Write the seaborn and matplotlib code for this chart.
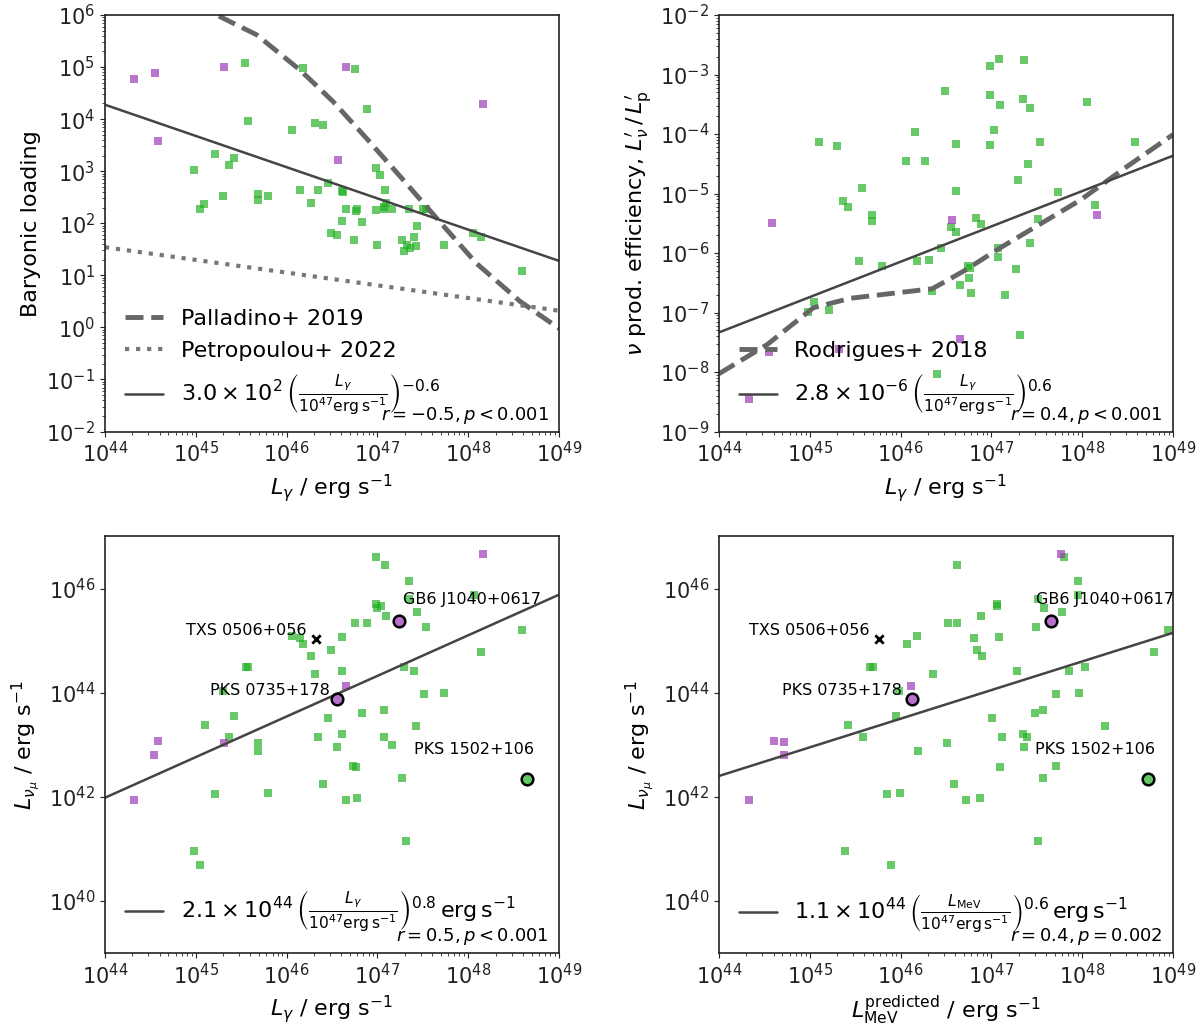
import numpy as np
import matplotlib
matplotlib.use("Agg")
import matplotlib.pyplot as plt
import matplotlib.ticker as mticker
import seaborn as sns

# values, stored as log10
# top left: baryonic loading vs L_gamma
tl_green_lx = [45.54, 46.18, 46.75, 46.89, 45.58, 46.06, 46.31, 46.40, 45.21, 45.42,
               45.37, 44.98, 46.98, 47.03, 46.45, 46.61, 46.62, 46.15, 46.35, 47.08,
               45.30, 45.69, 45.69, 45.80, 45.09, 45.05, 46.27, 46.65, 46.78, 46.76,
               46.98, 47.07, 47.07, 47.09, 47.16, 47.35, 47.50, 47.53, 46.61, 46.83,
               47.43, 46.49, 46.55, 46.74, 47.27, 47.40, 46.99, 47.42, 47.73, 48.05,
               48.14, 47.29, 47.32, 47.36, 48.59]
tl_green_ly = [5.07, 4.98, 4.96, 4.19, 3.97, 3.79, 3.92, 3.88, 3.34, 3.26,
               3.11, 3.02, 3.06, 2.93, 2.78, 2.62, 2.61, 2.63, 2.63, 2.63,
               2.53, 2.56, 2.44, 2.53, 2.37, 2.28, 2.38, 2.28, 2.27, 2.24,
               2.26, 2.32, 2.28, 2.39, 2.27, 2.28, 2.28, 2.28, 2.04, 2.03,
               1.94, 1.82, 1.78, 1.68, 1.68, 1.73, 1.59, 1.57, 1.59, 1.82,
               1.73, 1.46, 1.59, 1.52, 1.09]
tl_purple_lx = [44.32, 44.55, 45.31, 44.58, 46.65, 46.57, 48.16]
tl_purple_ly = [4.77, 4.88, 5.00, 3.58, 5.00, 3.22, 4.29]
pal_lx = [45.0, 45.23, 45.67, 46.15, 46.51, 46.88, 47.25, 47.65, 48.09, 48.57, 49.0]
pal_ly = [6.2, 6.00, 5.62, 4.94, 4.34, 3.63, 2.90, 2.10, 1.23, 0.50, -0.02]
pet_lx = [44.0, 49.0]
pet_ly = [1.54, 0.32]
tl_fit = (300.0, -0.6)

# top right: neutrino production efficiency vs L_gamma
tr_green_lx = [45.10, 45.30, 45.37, 45.42, 45.58, 45.69, 45.69, 46.06, 46.16, 46.27,
               46.49, 46.61, 46.61, 46.55, 46.61, 46.45, 46.83, 46.89, 46.99, 47.08,
               46.98, 47.10, 47.03, 46.98, 47.07, 47.36, 47.35, 47.43, 47.54, 47.40,
               47.29, 47.73, 47.51, 47.42, 48.05, 48.14, 48.58, 45.54, 45.80, 46.18,
               46.31, 44.98, 45.05, 45.21, 46.35, 46.66, 46.74, 46.77, 46.75, 46.78,
               47.07, 47.15, 47.27, 47.31, 46.40]
tr_green_ly = [-4.14, -4.20, -5.12, -5.22, -4.91, -5.36, -5.46, -4.45, -3.96, -4.46,
               -3.28, -4.95, -4.16, -5.57, -5.64, -5.91, -5.41, -5.51, -2.85, -2.74,
               -3.35, -3.52, -3.94, -4.18, -5.91, -2.76, -3.41, -3.56, -4.13, -4.50,
               -4.78, -4.97, -5.42, -5.83, -3.46, -5.19, -4.14, -6.13, -6.22, -6.13,
               -6.12, -6.99, -6.83, -6.96, -6.64, -6.54, -6.21, -6.25, -6.42, -6.67,
               -6.06, -6.70, -6.27, -7.38, -8.04]
tr_purple_lx = [44.58, 46.57, 48.16, 44.55, 44.33, 45.32, 46.66]
tr_purple_ly = [-5.49, -5.45, -5.36, -7.67, -8.45, -7.62, -7.45]
rod_lx = [44.0, 44.53, 45.04, 45.45, 46.35, 46.70, 47.09, 47.98, 48.49, 49.0]
rod_ly = [-8.03, -7.54, -6.92, -6.76, -6.60, -6.30, -5.92, -5.11, -4.55, -4.01]
tr_fit = (2.8e-6, 0.594)

# bottom left: L_numu vs L_gamma
bl_green_lx = [46.98, 47.08, 47.35, 48.06, 47.35, 46.98, 47.04, 46.99, 47.09, 47.43,
               47.53, 46.75, 46.88, 46.06, 46.15, 46.18, 46.61, 46.49, 46.27, 48.59,
               48.14, 45.55, 45.58, 46.31, 46.61, 47.29, 47.40, 45.30, 47.51, 47.73,
               45.42, 45.10, 45.37, 46.45, 46.83, 47.07, 47.42, 45.69, 45.69, 46.35,
               46.61, 46.55, 47.07, 47.16, 46.73, 46.76, 47.27, 46.40, 45.21, 45.80,
               46.65, 46.78, 47.31, 44.98, 45.05]
bl_green_ly = [46.60, 46.45, 46.14, 45.87, 45.79, 45.71, 45.67, 45.63, 45.47, 45.55,
               45.26, 45.34, 45.33, 45.08, 45.05, 44.94, 45.07, 44.81, 44.71, 45.20,
               44.79, 44.50, 44.50, 44.35, 44.41, 44.49, 44.42, 44.03, 43.97, 43.99,
               43.55, 43.37, 43.15, 43.51, 43.61, 43.66, 43.36, 43.03, 42.88, 43.15,
               43.20, 42.96, 43.15, 42.99, 42.59, 42.57, 42.37, 42.24, 42.05, 42.08,
               41.94, 41.97, 41.15, 40.96, 40.68]
bl_purple_lx = [48.16, 44.58, 44.54, 45.31, 46.65, 44.32]
bl_purple_ly = [46.67, 43.07, 42.81, 43.04, 44.12, 41.94]
bl_fit = (2.1e44, 0.78)

# bottom right: L_numu vs predicted L_MeV
br_green_lx = [47.80, 46.62, 47.95, 47.95, 47.51, 47.06, 47.06, 46.89, 47.58, 47.78,
               47.49, 46.52, 46.62, 46.07, 46.18, 46.81, 47.08, 46.84, 46.90, 48.95,
               48.79, 45.66, 45.70, 46.36, 47.28, 47.85, 48.03, 45.98, 47.96, 47.71,
               45.95, 45.42, 45.59, 47.01, 47.48, 47.57, 48.25, 46.19, 46.51, 47.12,
               47.35, 47.39, 47.36, 47.71, 47.09, 47.57, 46.59, 45.85, 45.99, 46.72,
               46.88, 47.51, 45.39, 45.89]
br_green_ly = [46.60, 46.45, 46.14, 45.87, 45.79, 45.71, 45.67, 45.47, 45.63, 45.55,
               45.26, 45.33, 45.34, 44.94, 45.09, 45.05, 45.07, 44.81, 44.71, 45.20,
               44.79, 44.50, 44.50, 44.35, 44.41, 44.42, 44.49, 44.03, 43.99, 43.97,
               43.55, 43.37, 43.15, 43.51, 43.61, 43.66, 43.36, 42.88, 43.03, 43.15,
               43.20, 43.15, 42.96, 42.59, 42.57, 42.37, 42.24, 42.05, 42.08, 41.94,
               41.97, 41.15, 40.96, 40.68]
br_purple_lx = [47.77, 44.61, 44.72, 44.72, 46.11, 44.33]
br_purple_ly = [46.67, 43.07, 43.05, 42.81, 44.12, 41.94]
br_fit = (1.12e44, 0.55)

# named sources
src_names = ["TXS 0506+056", "GB6 J1040+0617", "PKS 0735+178", "PKS 1502+106"]
src_lx_bl = [46.32, 47.24, 46.56, 48.65]
src_lx_br = [45.76, 47.66, 46.13, 48.73]
src_ly = [45.03, 45.38, 43.87, 42.34]

GREEN = '#22b022'
PURPLE = '#9a35b5'
SOLID = '#444444'
DASH = '#666666'

sns.set_style("ticks")
plt.rcParams['font.family'] = ['DejaVu Sans']
plt.rcParams['mathtext.fontset'] = 'dejavusans'
plt.rcParams['axes.edgecolor'] = '#222222'
plt.rcParams['axes.linewidth'] = 1.2
plt.rcParams['xtick.color'] = '#222222'
plt.rcParams['ytick.color'] = '#222222'
plt.rcParams['text.color'] = 'black'
plt.rcParams['axes.labelcolor'] = 'black'


def p10(a):
    return 10.0 ** np.array(a)


def scatter_pts(ax, gx, gy, px, py):
    sns.scatterplot(x=p10(gx), y=p10(gy), ax=ax, marker='s', s=26,
                    color=GREEN, alpha=0.68, linewidth=0)
    sns.scatterplot(x=p10(px), y=p10(py), ax=ax, marker='s', s=26,
                    color=PURPLE, alpha=0.68, linewidth=0)


def fit_line(ax, norm, slope, label):
    lx = np.array([44.0, 49.0])
    ly = np.log10(norm) + slope * (lx - 47.0)
    sns.lineplot(x=p10(lx), y=p10(ly), ax=ax, color=SOLID, lw=1.8,
                 sort=False, label=label, legend=False)


def setup(ax, ylim, yticks, yminor=True):
    ax.set_xscale('log')
    ax.set_yscale('log')
    ax.set_xlim(1e44, 1e49)
    ax.set_ylim(*ylim)
    ax.xaxis.set_major_locator(mticker.LogLocator(numticks=20))
    ax.xaxis.set_minor_locator(mticker.LogLocator(subs=np.arange(2, 10), numticks=100))
    ax.xaxis.set_minor_formatter(mticker.NullFormatter())
    ax.set_yticks(yticks)
    if yminor:
        ax.yaxis.set_minor_locator(mticker.LogLocator(subs=np.arange(2, 10), numticks=100))
    else:
        ax.yaxis.set_minor_locator(mticker.NullLocator())
    ax.yaxis.set_minor_formatter(mticker.NullFormatter())
    ax.tick_params(axis='both', which='major', labelsize=15)


def stats(ax, txt):
    ax.text(0.978, 0.014, txt, transform=ax.transAxes, ha='right', va='bottom', fontsize=13)


frac = r"\left(\frac{%s}{10^{47}\mathrm{erg\,s^{-1}}}\right)"

fig, axes = plt.subplots(2, 2, figsize=(12, 10.29), dpi=100)
fig.subplots_adjust(left=0.0875, right=0.9775, top=0.9854, bottom=0.0739,
                    wspace=0.352, hspace=0.252)

# top left
ax = axes[0, 0]
setup(ax, (1e-2, 1e6), p10(np.arange(-2, 7)))
scatter_pts(ax, tl_green_lx, tl_green_ly, tl_purple_lx, tl_purple_ly)
sns.lineplot(x=p10(pal_lx), y=p10(pal_ly), ax=ax, color=DASH, lw=3.5, ls='--',
             sort=False, label="Palladino+ 2019", legend=False)
sns.lineplot(x=p10(pet_lx), y=p10(pet_ly), ax=ax, color='#777777', lw=3, ls=':',
             sort=False, label="Petropoulou+ 2022", legend=False)
fit_line(ax, *tl_fit, label=r"$3.0\times10^{2}\," + frac % r"L_\gamma" + r"^{-0.6}$")
ax.legend(loc='lower left', bbox_to_anchor=(0, -0.016), frameon=False, fontsize=16,
          handlelength=1.7, labelspacing=0.55)
stats(ax, r"$r=-0.5, p<0.001$")
ax.set_xlabel(r"$L_\gamma$ / erg s$^{-1}$", fontsize=16)
ax.set_ylabel("Baryonic loading", fontsize=16)

# top right
ax = axes[0, 1]
setup(ax, (1e-9, 1e-2), p10(np.arange(-9, -1)))
scatter_pts(ax, tr_green_lx, tr_green_ly, tr_purple_lx, tr_purple_ly)
sns.lineplot(x=p10(rod_lx), y=p10(rod_ly), ax=ax, color=DASH, lw=3.5, ls='--',
             sort=False, label="Rodrigues+ 2018", legend=False)
fit_line(ax, *tr_fit, label=r"$2.8\times10^{-6}\," + frac % r"L_\gamma" + r"^{0.6}$")
ax.legend(loc='lower left', bbox_to_anchor=(0, -0.016), frameon=False, fontsize=16,
          handlelength=1.7, labelspacing=0.55)
stats(ax, r"$r=0.4, p<0.001$")
ax.set_xlabel(r"$L_\gamma$ / erg s$^{-1}$", fontsize=16)
ax.set_ylabel(r"$\nu$ prod. efficiency, $L^{\prime}_{\nu}\,/\,L^{\prime}_{\mathrm{p}}$",
              fontsize=16)

# bottom panels
offsets = [(-9, 9, 'right'), (4, 21, 'left'), (-8, 9, 'right'), (7, 30, 'right')]
offsets_br = [(-9, 9, 'right'), (-15, 21, 'left'), (-10, 9, 'right'), (7, 30, 'right')]
faces = [None, PURPLE, PURPLE, GREEN]

for ax, gx, gy, px, py, fit, sx, offs, lbl, st, xl in [
        (axes[1, 0], bl_green_lx, bl_green_ly, bl_purple_lx, bl_purple_ly, bl_fit,
         src_lx_bl, offsets,
         r"$2.1\times10^{44}\," + frac % r"L_\gamma" + r"^{0.8}\,\mathrm{erg\,s^{-1}}$",
         r"$r=0.5, p<0.001$", r"$L_\gamma$ / erg s$^{-1}$"),
        (axes[1, 1], br_green_lx, br_green_ly, br_purple_lx, br_purple_ly, br_fit,
         src_lx_br, offsets_br,
         r"$1.1\times10^{44}\," + frac % r"L_\mathrm{MeV}" + r"^{0.6}\,\mathrm{erg\,s^{-1}}$",
         r"$r=0.4, p=0.002$", r"$L_\mathrm{MeV}^\mathrm{predicted}$ / erg s$^{-1}$")]:
    setup(ax, (1e39, 1e47), [1e40, 1e42, 1e44, 1e46], yminor=False)
    scatter_pts(ax, gx, gy, px, py)
    fit_line(ax, *fit, label=lbl)
    for i, name in enumerate(src_names):
        xv, yv = 10.0 ** sx[i], 10.0 ** src_ly[i]
        if faces[i] is None:
            sns.scatterplot(x=[xv], y=[yv], ax=ax, marker='x', s=36, color='black',
                            linewidth=2, zorder=4)
        else:
            sns.scatterplot(x=[xv], y=[yv], ax=ax, marker='o', s=70,
                            color=matplotlib.colors.to_rgba(faces[i], 0.7),
                            edgecolor='black', linewidth=1.8, zorder=4)
        dx, dy, ha = offs[i]
        ax.annotate(name, (xv, yv), xytext=(dx, dy), textcoords='offset pixels',
                    ha=ha, va='center', fontsize=11.5)
    ax.legend(loc='lower left', bbox_to_anchor=(0, -0.006), frameon=False, fontsize=16,
              handlelength=1.7)
    stats(ax, st)
    ax.set_xlabel(xl, fontsize=16)
    ax.set_ylabel(r"$L_{\nu_\mu}$ / erg s$^{-1}$", fontsize=16)

fig.savefig("out.png", dpi=100)
